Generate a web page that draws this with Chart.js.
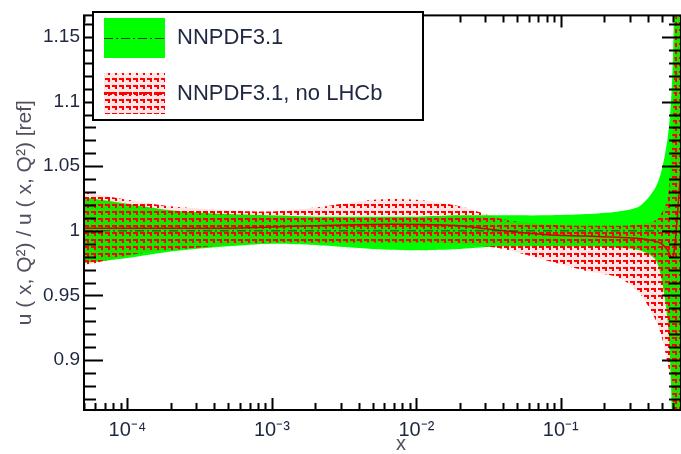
<!DOCTYPE html>
<html>
<head>
<meta charset="utf-8">
<script src="https://cdn.jsdelivr.net/npm/chart.js@4.4.1/dist/chart.umd.min.js"></script>
<style>
  html, body { margin: 0; padding: 0; background: #fff; }
  #wrap { width: 681px; height: 454px; position: relative; }
</style>
</head>
<body>
<div id="wrap"><canvas id="chartRatio"></canvas></div>
<script>
// x grid of the bands
const xValues = [5e-5, 1e-4, 2e-4, 5e-4, 1e-3, 2e-3, 5e-3, 1e-2, 2e-2, 4e-2, 0.08, 0.15, 0.25, 0.35, 0.45, 0.5, 0.55, 0.58, 0.6, 0.63, 0.68];

// NNPDF3.1 (green band)
const greenUpper = [1.026, 1.021, 1.016, 1.013, 1.012, 1.011, 1.011, 1.011, 1.012, 1.012, 1.012, 1.013, 1.015, 1.019, 1.033, 1.047, 1.072, 1.10, 1.14, 1.25, 1.35];
const greenLower = [0.975, 0.979, 0.984, 0.988, 0.990, 0.989, 0.986, 0.985, 0.986, 0.988, 0.988, 0.988, 0.987, 0.985, 0.978, 0.962, 0.93, 0.88, 0.80, 0.70, 0.60];
const greenCentral = [1, 1, 1, 1, 1, 1, 1, 1, 1, 1, 1, 1, 1, 1, 1, 1, 1, 1, 1, 1, 1];

// NNPDF3.1, no LHCb (red hatched band)
const redUpper = [1.030, 1.024, 1.019, 1.016, 1.015, 1.018, 1.024, 1.024, 1.019, 1.009, 1.005, 1.004, 1.004, 1.005, 1.008, 1.014, 1.025, 1.055, 1.09, 1.20, 1.40];
const redLower = [0.973, 0.981, 0.985, 0.989, 0.991, 0.991, 0.991, 0.991, 0.990, 0.986, 0.977, 0.969, 0.964, 0.952, 0.932, 0.918, 0.897, 0.884, 0.862, 0.80, 0.70];
const redCentral = [1.002, 1.002, 1.002, 1.002, 1.003, 1.004, 1.005, 1.005, 1.004, 1.0, 0.997, 0.996, 0.995, 0.994, 0.992, 0.99, 0.985, 0.98, 0.98, 1.0, 1.05];

const seriesLabels = ['NNPDF3.1', 'NNPDF3.1, no LHCb'];

const xTickValues = [1e-4, 1e-3, 1e-2, 1e-1];
const xTickLabels = ['10\u207B\u2074', '10\u207B\u00B3', '10\u207B\u00B2', '10\u207B\u00B9'];
const yTickValues = [0.9, 0.95, 1, 1.05, 1.1, 1.15];
const yTickLabels = ['0.9', '0.95', '1', '1.05', '1.1', '1.15'];

const FONT = "'Liberation Sans', Arial, sans-serif";
const TEXT = '#1e2640';
const GREY = '#505060';

function pts(ys) {
  return xValues.map((x, i) => ({ x: x, y: ys[i] }));
}

// small red "hook" marks, like the ROOT fill style
function hatch() {
  const c = document.createElement('canvas');
  c.width = 7; c.height = 7;
  const g = c.getContext('2d');
  g.fillStyle = 'rgba(255,0,0,0.1)';
  g.fillRect(0, 0, 7, 7);
  g.fillStyle = '#ff0000';
  g.fillRect(0, 1, 5, 2);
  g.fillRect(3, 3, 2, 2);
  return g.createPattern(c, 'repeat');
}
const redHatch = hatch();

const rootFrame = {
  id: 'rootFrame',
  afterDatasetsDraw(chart) {
    const { ctx, chartArea: a, scales: { x, y } } = chart;
    ctx.save();
    ctx.strokeStyle = '#000';
    ctx.lineWidth = 2;
    ctx.strokeRect(a.left, a.top, a.right - a.left, a.bottom - a.top);
    ctx.beginPath();
    for (let i = 86; i <= 117; i++) {
      const v = i / 100;
      if (v < y.min || v > y.max) continue;
      const py = Math.round(y.getPixelForValue(v)) + 0.5;
      const len = i % 5 === 0 ? 19 : 12;
      ctx.moveTo(a.left, py); ctx.lineTo(a.left + len, py);
      ctx.moveTo(a.right, py); ctx.lineTo(a.right - len, py);
    }
    for (let e = -5; e <= -1; e++) {
      for (let m = 1; m <= 9; m++) {
        const v = m * Math.pow(10, e);
        if (v < x.min || v > x.max) continue;
        const px = Math.round(x.getPixelForValue(v)) + 0.5;
        const len = m === 1 ? 12 : 7;
        ctx.moveTo(px, a.bottom); ctx.lineTo(px, a.bottom - len);
        ctx.moveTo(px, a.top); ctx.lineTo(px, a.top + len);
      }
    }
    ctx.stroke();
    ctx.restore();
  },
  afterDraw(chart) {
    const { ctx } = chart;
    ctx.save();
    // legend box
    ctx.fillStyle = '#fff';
    ctx.fillRect(93, 12, 330, 108);
    ctx.strokeStyle = '#000';
    ctx.lineWidth = 2;
    ctx.strokeRect(93, 12, 330, 108);
    // green entry
    ctx.fillStyle = '#00ff00';
    ctx.fillRect(104, 18, 61, 40);
    ctx.strokeStyle = '#1f3a1f';
    ctx.lineWidth = 1;
    ctx.setLineDash([9, 3, 2, 3]);
    ctx.beginPath(); ctx.moveTo(104, 38.5); ctx.lineTo(165, 38.5); ctx.stroke();
    // red entry
    ctx.setLineDash([]);
    ctx.fillStyle = redHatch;
    ctx.fillRect(104, 73, 61, 41);
    ctx.strokeStyle = '#ff0000';
    ctx.lineWidth = 3;
    ctx.setLineDash([3, 2]);
    ctx.beginPath(); ctx.moveTo(104, 93.5); ctx.lineTo(165, 93.5); ctx.stroke();
    ctx.setLineDash([]);
    ctx.fillStyle = TEXT;
    ctx.font = '22px ' + FONT;
    ctx.textBaseline = 'middle';
    ctx.fillText(seriesLabels[0], 177, 38);
    ctx.fillText(seriesLabels[1], 177, 94);
    // x axis title
    ctx.fillStyle = GREY;
    ctx.font = '20px ' + FONT;
    ctx.textAlign = 'center';
    ctx.fillText('x', 401, 444);
    ctx.restore();
  }
};

const band = { pointRadius: 0, borderWidth: 0, tension: 0.3 };

new Chart('chartRatio', {
  type: 'line',
  data: {
    datasets: [
      Object.assign({ label: seriesLabels[0], data: pts(greenUpper), fill: '+1', backgroundColor: '#00ff00', order: 3 }, band),
      Object.assign({ label: '', data: pts(greenLower), fill: false, order: 3 }, band),
      Object.assign({ label: seriesLabels[1], data: pts(redUpper), fill: '+1', backgroundColor: redHatch, order: 2 }, band),
      Object.assign({ label: '', data: pts(redLower), fill: false, order: 2 }, band),
      { label: '', data: pts(redCentral), fill: false, borderColor: '#d00000', borderWidth: 1.5, pointRadius: 0, tension: 0.3, order: 1 },
      { label: '', data: pts(greenCentral), fill: false, borderColor: '#1f3a1f', borderWidth: 1, borderDash: [9, 3, 2, 3], pointRadius: 0, order: 0 }
    ]
  },
  options: {
    responsive: true,
    maintainAspectRatio: false,
    animation: false,
    layout: { padding: { top: 7, right: -3, left: 0, bottom: 0 } },
    plugins: { legend: { display: false }, tooltip: { enabled: false } },
    scales: {
      x: {
        type: 'logarithmic',
        min: 5e-5,
        max: 0.68,
        grid: { display: false, drawTicks: false },
        border: { display: false },
        afterBuildTicks: s => { s.ticks = xTickValues.map(v => ({ value: v })); },
        afterFit: s => { s.height = 44; },
        ticks: {
          autoSkip: false,
          maxRotation: 0,
          padding: 8,
          color: TEXT,
          font: { family: FONT, size: 20 },
          callback: (v, i) => xTickLabels[i]
        }
      },
      y: {
        min: 0.8614,
        max: 1.1667,
        grid: { display: false, drawTicks: false },
        border: { display: false },
        afterBuildTicks: s => { s.ticks = yTickValues.map(v => ({ value: v })); },
        afterFit: s => { s.width = 84; },
        ticks: {
          autoSkip: false,
          padding: 4,
          color: TEXT,
          font: { family: FONT, size: 19 },
          callback: (v, i) => yTickLabels[i]
        },
        title: {
          display: true,
          text: 'u ( x, Q\u00B2) / u ( x, Q\u00B2) [ref]',
          color: GREY,
          padding: { top: 13, bottom: 0 },
          font: { family: FONT, size: 21 }
        }
      }
    }
  },
  plugins: [rootFrame]
});
</script>
</body>
</html>
